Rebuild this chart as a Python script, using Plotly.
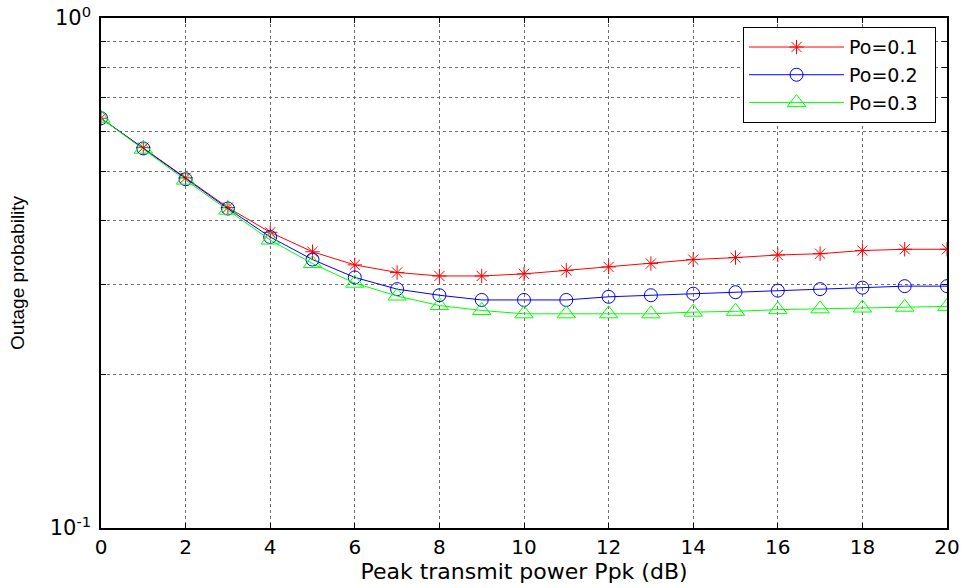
import plotly.graph_objects as go

# Peak transmit power (dB)
ppk_db = list(range(0, 21))

# Outage probability for each Po setting
outage_po01 = [0.636, 0.557, 0.486, 0.425, 0.380, 0.348, 0.328, 0.317, 0.312, 0.312,
               0.315, 0.320, 0.325, 0.330, 0.336, 0.339, 0.343, 0.345, 0.350, 0.352, 0.352]
outage_po02 = [0.636, 0.555, 0.483, 0.423, 0.372, 0.336, 0.310, 0.294, 0.286, 0.280,
               0.280, 0.280, 0.284, 0.286, 0.288, 0.290, 0.292, 0.294, 0.296, 0.298, 0.298]
outage_po03 = [0.636, 0.553, 0.481, 0.420, 0.367, 0.330, 0.302, 0.285, 0.273, 0.267,
               0.263, 0.263, 0.263, 0.263, 0.265, 0.266, 0.268, 0.269, 0.270, 0.271, 0.272]

series_names = ["Po=0.1", "Po=0.2", "Po=0.3"]
series_colors = ["#ff0000", "#0000ff", "#00ff00"]
series_symbols = ["asterisk-open", "circle-open", "triangle-up-open"]
series_sizes = [12, 13, 16]

x_ticks = list(range(0, 21, 2))
y_ticks = [0.1, 0.2, 0.3, 0.4, 0.5, 0.6, 0.7, 0.8, 0.9, 1.0]
y_ticktext = ["10<sup>-1</sup>", "", "", "", "", "", "", "", "", "10<sup>0</sup>"]

fig = go.Figure()
for name, ys, color, sym, size in zip(series_names,
                                      [outage_po01, outage_po02, outage_po03],
                                      series_colors, series_symbols, series_sizes):
    fig.add_trace(go.Scatter(
        x=ppk_db, y=ys, name=name + "\u00a0\u00a0", mode="lines+markers",
        line=dict(color=color, width=1),
        marker=dict(symbol=sym, size=size, color=color, line=dict(color=color, width=1)),
    ))

grid_style = dict(showgrid=True, gridcolor="#6f6f6f", griddash="dot", gridwidth=1,
                  showline=True, linecolor="black", linewidth=1.5, mirror="ticks",
                  ticks="inside", ticklen=5, tickcolor="black", zeroline=False,
                  automargin=False)

fig.update_layout(
    width=968, height=588,
    margin=dict(l=101, r=21, t=18, b=60),
    paper_bgcolor="white", plot_bgcolor="white",
    font=dict(family="DejaVu Sans", size=20, color="black"),
    xaxis=dict(range=[0, 20], tickvals=x_ticks, tickfont=dict(size=20),
               title=dict(text="Peak transmit power Ppk (dB)", font=dict(size=22), standoff=2),
               **grid_style),
    yaxis=dict(type="log", range=[-1, 0], tickvals=y_ticks, ticktext=y_ticktext,
               tickfont=dict(size=21), ticklabelstandoff=4,
               title=dict(text="Outage probability",
                          font=dict(family="Liberation Sans", size=19), standoff=20),
               **grid_style),
    legend=dict(x=0.7589, y=0.982, xanchor="left", yanchor="top",
                bgcolor="white", bordercolor="black", borderwidth=1,
                font=dict(family="DejaVu Sans", size=19), itemwidth=95),
    showlegend=True,
)

fig.write_html("out.html")
